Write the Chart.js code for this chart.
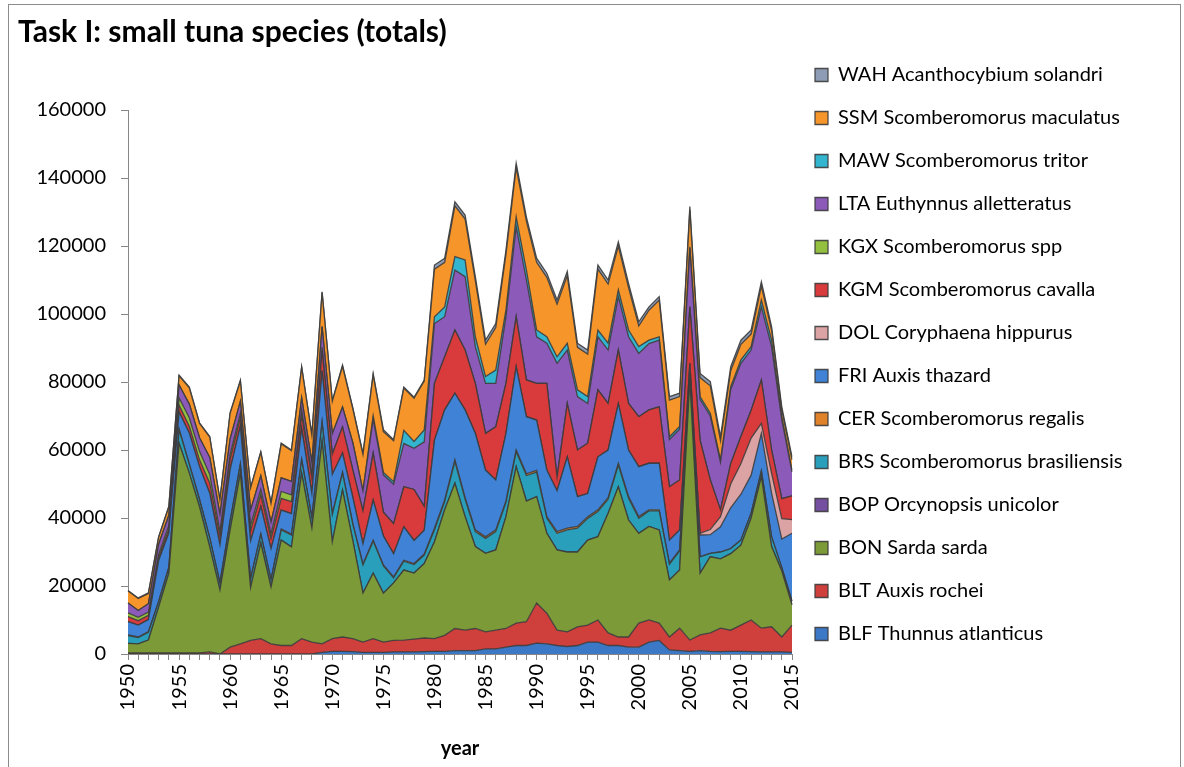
<!DOCTYPE html>
<html>
<head>
<meta charset="utf-8">
<title>Task I: small tuna species (totals)</title>
<script src="https://cdn.jsdelivr.net/npm/chart.js@4.4.0/dist/chart.umd.min.js"></script>
<style>
  html, body { margin: 0; padding: 0; background: #fff; }
  #wrap { position: relative; width: 1184px; height: 767px; overflow: hidden; }
  #frame { position: absolute; left: 8px; top: 4px; width: 1171px; height: 800px;
           border: 1px solid #8c8c8c; pointer-events: none; }
</style>
</head>
<body>
<div id="wrap">
  <canvas id="chart" width="1184" height="767"></canvas>
  <div id="frame"></div>
</div>
<script>
// catches in tonnes, one value per year
const years = [1950, 1951, 1952, 1953, 1954, 1955, 1956, 1957, 1958, 1959,
  1960, 1961, 1962, 1963, 1964, 1965, 1966, 1967, 1968, 1969,
  1970, 1971, 1972, 1973, 1974, 1975, 1976, 1977, 1978, 1979,
  1980, 1981, 1982, 1983, 1984, 1985, 1986, 1987, 1988, 1989,
  1990, 1991, 1992, 1993, 1994, 1995, 1996, 1997, 1998, 1999,
  2000, 2001, 2002, 2003, 2004, 2005, 2006, 2007, 2008, 2009,
  2010, 2011, 2012, 2013, 2014, 2015];

const BLF = [0, 0, 0, 0, 0, 0, 0, 0, 0, 0,
  0, 0, 0, 0, 0, 0, 0, 0, 0, 500,
  800, 800, 700, 500, 500, 500, 600, 600, 600, 700,
  800, 800, 1000, 1000, 1000, 1500, 1500, 2000, 2500, 2500,
  3200, 3000, 2500, 2200, 2500, 3500, 3500, 2500, 2500, 2000,
  2000, 3500, 4000, 1200, 1000, 800, 1000, 800, 700, 800,
  800, 700, 600, 600, 600, 500];
const BLT = [300, 300, 300, 300, 300, 300, 300, 300, 600, 0,
  2000, 3000, 4000, 4500, 3000, 2500, 2500, 4500, 3500, 2500,
  3700, 4200, 3800, 3000, 4000, 3000, 3400, 3500, 3800, 4000,
  3700, 4700, 6500, 6000, 6500, 5000, 5500, 5500, 6600, 7000,
  11800, 9000, 4500, 4300, 5500, 5000, 6500, 3700, 2500, 3000,
  7100, 6500, 5100, 3800, 6600, 3300, 4600, 5400, 6900, 6200,
  7700, 9300, 7000, 7400, 4400, 8000];
const BON = [2800, 2700, 3800, 13500, 23500, 61700, 52900, 43000, 30900, 18800,
  34500, 50200, 15500, 28100, 16700, 31000, 29000, 48700, 33500, 59500,
  28500, 43200, 29000, 14400, 19300, 14400, 16900, 20600, 19400, 21900,
  28500, 36900, 42700, 33400, 24100, 23100, 23600, 32900, 46000, 35500,
  31300, 23500, 23600, 23500, 22000, 25000, 24500, 35200, 44200, 34400,
  26400, 27500, 27400, 16800, 17100, 76500, 18100, 22400, 20400, 22500,
  23500, 30000, 44600, 23600, 19400, 6000];
const BOP = [0, 0, 0, 0, 0, 0, 0, 0, 0, 0,
  0, 0, 0, 0, 0, 0, 0, 0, 0, 0,
  0, 0, 0, 0, 0, 0, 0, 0, 0, 0,
  0, 0, 0, 0, 0, 0, 0, 0, 0, 0,
  0, 0, 0, 0, 0, 0, 0, 0, 0, 0,
  0, 0, 0, 0, 0, 0, 0, 0, 0, 0,
  0, 0, 0, 0, 0, 0];
const BRS = [2300, 1800, 2300, 1500, 1500, 3900, 2500, 2000, 2500, 2000,
  2500, 2500, 2500, 2500, 2000, 3000, 3500, 3800, 3000, 5500,
  8000, 5000, 4700, 8300, 9400, 8000, 1500, 2600, 2500, 2500,
  3500, 2400, 6400, 5100, 4400, 4400, 5400, 4100, 4400, 7500,
  7200, 4400, 4900, 6500, 7000, 6400, 7400, 4100, 6400, 6400,
  4400, 4600, 5600, 4600, 5600, 1600, 4900, 1000, 2000, 1500,
  1500, 1400, 1600, 2900, 1000, 1000];
const CER = [200, 200, 200, 200, 300, 300, 300, 300, 300, 300,
  300, 300, 300, 300, 300, 300, 300, 300, 300, 300,
  300, 300, 300, 300, 300, 300, 300, 300, 300, 300,
  500, 500, 500, 500, 500, 500, 500, 500, 500, 500,
  500, 500, 500, 500, 500, 500, 500, 500, 500, 500,
  500, 300, 300, 300, 300, 300, 0, 0, 0, 0,
  0, 0, 0, 0, 0, 0];
const FRI = [3900, 3500, 3500, 12000, 10000, 5000, 9000, 9500, 13000, 11000,
  15000, 11000, 11000, 8000, 9000, 5500, 6000, 9000, 7000, 15000,
  11500, 5600, 7700, 5900, 11800, 8500, 6800, 9800, 6800, 7000,
  25900, 26500, 19600, 25800, 28400, 19600, 14700, 19900, 24500, 16800,
  14800, 13700, 12000, 21000, 8800, 6800, 15600, 14000, 17600, 13700,
  14700, 13700, 13700, 6800, 5900, 3000, 6400, 5500, 7400, 12000,
  13500, 11200, 11100, 12800, 8400, 20000];
const DOL = [0, 0, 0, 0, 0, 0, 0, 0, 0, 0,
  0, 0, 0, 0, 0, 0, 0, 0, 0, 0,
  0, 0, 0, 0, 0, 0, 0, 0, 0, 0,
  0, 0, 0, 0, 0, 0, 0, 0, 0, 0,
  0, 0, 0, 0, 0, 0, 0, 0, 0, 0,
  0, 0, 0, 0, 0, 0, 500, 1500, 3000, 7000,
  9000, 10900, 2900, 5800, 6000, 4000];
const KGM = [1500, 1300, 1300, 1000, 1200, 2000, 2000, 2000, 3000, 2500,
  3000, 2500, 3000, 3500, 3000, 3500, 3500, 4000, 4500, 6000,
  6000, 7700, 8000, 9700, 13800, 7000, 8800, 11800, 15000, 7000,
  16700, 15600, 18600, 17600, 14700, 10800, 15600, 14700, 14700, 10800,
  10800, 25500, 4000, 15700, 13700, 14800, 19700, 13700, 15700, 13700,
  14700, 15700, 16600, 15700, 14700, 16600, 27400, 14600, 2000, 6000,
  8000, 8200, 12800, 6900, 5900, 7000];
const KGX = [1100, 1000, 900, 800, 1000, 2100, 2500, 2500, 2500, 1500,
  1500, 1300, 1500, 1500, 1300, 2000, 2000, 1500, 1000, 1000,
  0, 0, 0, 0, 0, 0, 0, 0, 0, 0,
  0, 0, 0, 0, 0, 0, 0, 0, 0, 0,
  0, 0, 0, 0, 0, 0, 0, 0, 0, 0,
  0, 0, 0, 0, 0, 0, 0, 0, 0, 0,
  0, 0, 0, 0, 0, 0];
const LTA = [2900, 2000, 2500, 3000, 3000, 3800, 4000, 4000, 5000, 5000,
  4500, 3500, 4500, 4000, 3500, 4000, 4000, 3500, 3500, 6000,
  6000, 5800, 8000, 5900, 10000, 11000, 11600, 12700, 12100, 19000,
  17600, 11800, 17600, 21600, 10800, 14700, 12800, 19600, 26500, 29400,
  13700, 11800, 33500, 15700, 15700, 11700, 15600, 15700, 15700, 19600,
  18600, 19500, 19600, 13900, 14900, 17200, 12000, 18800, 14000, 21800,
  21500, 17700, 21500, 30400, 23200, 7000];
const MAW = [0, 0, 0, 0, 0, 0, 0, 0, 0, 0,
  0, 0, 0, 0, 0, 0, 0, 0, 0, 0,
  0, 0, 0, 0, 1000, 700, 800, 3900, 2000, 3500,
  2000, 2900, 4000, 4900, 2900, 2000, 3900, 2000, 2900, 2900,
  2000, 1900, 1900, 2000, 2000, 2000, 2000, 2000, 2000, 2000,
  2000, 1000, 1000, 800, 800, 500, 800, 800, 700, 800,
  1000, 1000, 2000, 1900, 800, 600];
const SSM = [3500, 3500, 3000, 2000, 2500, 2700, 4800, 4200, 6000, 4200,
  7500, 6000, 6500, 6900, 5500, 10000, 9000, 9000, 8000, 10000,
  9500, 12000, 10000, 10700, 12000, 12000, 12000, 12400, 12700, 14400,
  14000, 13100, 14900, 12000, 16500, 9500, 12500, 16400, 14500, 14400,
  19900, 17500, 15500, 19900, 12500, 12500, 17900, 17400, 12900, 12500,
  6100, 8800, 10800, 10800, 8800, 10800, 5600, 8100, 5600, 4700,
  4600, 3700, 4200, 3000, 2000, 3100];
const WAH = [200, 200, 200, 200, 200, 200, 200, 200, 200, 200,
  200, 200, 200, 200, 200, 200, 200, 200, 200, 200,
  200, 400, 300, 300, 300, 600, 300, 300, 300, 300,
  1200, 1200, 1200, 1200, 1200, 1200, 1200, 1200, 1200, 1200,
  1200, 1200, 1200, 1200, 1200, 1200, 1200, 1200, 1200, 1200,
  1200, 1000, 1000, 1000, 1000, 1000, 1200, 1200, 1200, 1200,
  1200, 1200, 1200, 1000, 1000, 800];

// stacking order, bottom layer first
const species = [
  { label: 'BLF Thunnus atlanticus', data: BLF, color: '#3b78c6' },
  { label: 'BLT Auxis rochei', data: BLT, color: '#cf3f3c' },
  { label: 'BON Sarda sarda', data: BON, color: '#7c9b38' },
  { label: 'BOP Orcynopsis unicolor', data: BOP, color: '#7650a0' },
  { label: 'BRS Scomberomorus brasiliensis', data: BRS, color: '#2a9fbb' },
  { label: 'CER Scomberomorus regalis', data: CER, color: '#e0822a' },
  { label: 'FRI Auxis thazard', data: FRI, color: '#3f82d6' },
  { label: 'DOL Coryphaena hippurus', data: DOL, color: '#dba3a4' },
  { label: 'KGM Scomberomorus cavalla', data: KGM, color: '#d93a3b' },
  { label: 'KGX Scomberomorus spp', data: KGX, color: '#93c03f' },
  { label: 'LTA Euthynnus alletteratus', data: LTA, color: '#8c5ab9' },
  { label: 'MAW Scomberomorus tritor', data: MAW, color: '#33b5cf' },
  { label: 'SSM Scomberomorus maculatus', data: SSM, color: '#f5952a' },
  { label: 'WAH Acanthocybium solandri', data: WAH, color: '#8e9db5' },
];

const FONT = 'Lato';
const LEGEND_SIZE = 20;
const LEGEND_PAD = 23;
const BOX = 13;
const PLOT_RIGHT = 792;

// size the right padding so the legend column sits next to the plot
const meas = document.createElement('canvas').getContext('2d');
meas.font = LEGEND_SIZE + 'px ' + FONT;
const widest = Math.max(...species.map(s => meas.measureText(s.label).width));
const legendWidth = LEGEND_PAD + BOX + LEGEND_SIZE / 2 + widest + 10;
const padRight = Math.max(0, 1184 - PLOT_RIGHT - legendWidth);

Chart.defaults.font.family = FONT;
Chart.defaults.color = '#000';

new Chart(document.getElementById('chart'), {
  type: 'line',
  data: {
    labels: years,
    datasets: species.map((s, i) => ({
      label: s.label,
      data: s.data,
      backgroundColor: s.color,
      borderColor: 'rgba(60,60,60,0.9)',
      borderWidth: 1.3,
      fill: i === 0 ? 'origin' : '-1',
      pointRadius: 0,
      tension: 0,
    })),
  },
  options: {
    responsive: false,
    animation: false,
    layout: { padding: { top: 4, left: 18, right: padRight, bottom: 0 } },
    plugins: {
      title: {
        display: true,
        text: 'Task I: small tuna species (totals)',
        align: 'start',
        color: '#000',
        font: { size: 30, weight: 'bold' },
        padding: { top: 10, bottom: 60 },
      },
      legend: {
        position: 'right',
        align: 'start',
        reverse: true,
        maxWidth: 420,
        title: { display: true, text: '', font: { size: 10 }, padding: { top: 26, bottom: 0 } },
        labels: {
          boxWidth: BOX,
          boxHeight: BOX,
          padding: LEGEND_PAD,
          color: '#000',
          font: { size: LEGEND_SIZE },
        },
      },
      tooltip: { enabled: false },
    },
    scales: {
      x: {
        afterFit: (s) => { s.height = 113; },
        grid: { display: true, drawOnChartArea: false, drawTicks: true, tickLength: 6, color: '#868686' },
        border: { color: '#868686' },
        ticks: {
          autoSkip: false,
          minRotation: 90,
          maxRotation: 90,
          padding: 4,
          font: { size: 20 },
          callback: (v, i) => (years[i] % 5 === 0 ? String(years[i]) : ''),
        },
        title: {
          display: true,
          text: 'year',
          font: { size: 20, weight: 'bold' },
          padding: { top: 4, bottom: 6 },
        },
      },
      y: {
        stacked: true,
        min: 0,
        max: 160000,
        afterFit: (s) => { s.width = 110; },
        grid: { display: true, drawOnChartArea: false, drawTicks: true, tickLength: 7, color: '#868686' },
        border: { color: '#868686' },
        ticks: {
          stepSize: 20000,
          padding: 15,
          font: { size: 20 },
          callback: (v) => String(v),
        },
      },
    },
  },
});
</script>
</body>
</html>
